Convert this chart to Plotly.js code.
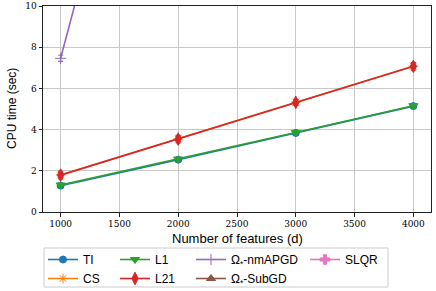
<!DOCTYPE html>
<html>
<head>
<meta charset="utf-8">
<script src="https://cdn.plot.ly/plotly-3.0.1.min.js"></script>
<style>html,body{margin:0;padding:0;background:#fff;}#chart{width:436px;height:291px;}</style>
</head>
<body>
<div id="chart"></div>
<script>
const features = [1000, 2000, 3000, 4000];
const TI = [1.28, 2.54, 3.84, 5.14];
const CS = [1.80, 3.55, 5.33, 7.08];
const L1 = [1.31, 2.57, 3.86, 5.16];
const L21 = [1.79, 3.54, 5.32, 7.07];
const nmAPGD = [7.46, 29.0, 58.0, 95.0];
const SubGD = [35.0, 80.0, 140.0, 210.0];
const SLQR = [25.0, 60.0, 110.0, 170.0];
const errTI = [0.05, 0.06, 0.06, 0.07];
const errCS = [0.12, 0.12, 0.12, 0.12];
const errL1 = [0.06, 0.06, 0.06, 0.07];
const errL21 = [0.18, 0.18, 0.15, 0.18];
const errNm = [0.15, 0.5, 0.8, 1.0];
const errSub = [0.5, 1.0, 1.5, 2.0];
const errSLQR = [0.5, 1.0, 1.5, 2.0];
const names = ['TI', 'CS', 'L1', 'L21', 'Ω<sub>*</sub>-nmAPGD', 'Ω<sub>*</sub>-SubGD', 'SLQR'];
const xTitle = 'Number of features (d)';
const yTitle = 'CPU time (sec)';

function tr(y, err, name, color, symbol, size, legend, rank) {
  return {
    x: features, y: y, name: name, type: 'scatter', mode: 'lines+markers',
    line: {color: color, width: 1.6},
    marker: {color: color, symbol: symbol, size: size, line: {color: color, width: 1}},
    error_y: {type: 'data', array: err, visible: true, color: color, thickness: 1.2, width: 2.5},
    legend: legend, legendrank: rank, cliponaxis: true
  };
}

const data = [
  tr(TI, errTI, names[0], '#1f77b4', 'circle', 7, 'legend', 1),
  tr(CS, errCS, names[1], '#ff7f0e', 'asterisk-open', 8, 'legend', 2),
  tr(L1, errL1, names[2], '#2ca02c', 'triangle-down', 8, 'legend2', 1),
  tr(L21, errL21, names[3], '#d62728', 'diamond-tall', 9, 'legend2', 2),
  tr(nmAPGD, errNm, names[4], '#9467bd', 'cross-thin-open', 8, 'legend3', 1),
  tr(SubGD, errSub, names[5], '#8c564b', 'triangle-up', 8, 'legend3', 2),
  tr(SLQR, errSLQR, names[6], '#e377c2', 'cross', 8, 'legend4', 1)
];

const plotL = 43, plotR = 431, plotT = 6, plotB = 212;
const W = plotR - plotL, H = plotB - plotT;
const legFont = {family: 'Liberation Sans, Arial, sans-serif', size: 12, color: '#000'};
function leg(px) {
  return {x: (px - plotL) / W, y: (plotB - 245) / H,
    xanchor: 'left', yanchor: 'top', orientation: 'v',
    bgcolor: 'rgba(0,0,0,0)', borderwidth: 0, font: legFont, itemwidth: 30,
    tracegroupgap: 0};
}

const layout = {
  width: 436, height: 291,
  margin: {l: 43, r: 5, t: 6, b: 79, autoexpand: false},
  paper_bgcolor: '#fff', plot_bgcolor: '#fff',
  showlegend: true,
  xaxis: {
    range: [850, 4150], tickvals: [1000, 1500, 2000, 2500, 3000, 3500, 4000],
    showgrid: true, gridcolor: '#c8c8c8', gridwidth: 1,
    zeroline: false, showline: true, linecolor: '#222', linewidth: 1, mirror: true,
    ticks: 'outside', ticklen: 3.5, tickcolor: '#222',
    tickfont: {family: 'DejaVu Serif, serif', size: 9, color: '#000'}
  },
  yaxis: {
    range: [0, 10], tickvals: [0, 2, 4, 6, 8, 10],
    showgrid: true, gridcolor: '#c8c8c8', gridwidth: 1,
    zeroline: false, showline: true, linecolor: '#222', linewidth: 1, mirror: true,
    ticks: 'outside', ticklen: 3.5, tickcolor: '#222',
    tickfont: {family: 'DejaVu Serif, serif', size: 9, color: '#000'}
  },
  legend: leg(43),
  legend2: leg(115),
  legend3: leg(191),
  legend4: leg(305),
  annotations: [
    {text: xTitle, xref: 'paper', yref: 'paper', x: 0.5, y: (plotB - 238) / H,
     xanchor: 'center', yanchor: 'middle', showarrow: false,
     font: {family: 'Liberation Sans, Arial, sans-serif', size: 13, color: '#000'}},
    {text: yTitle, xref: 'paper', yref: 'paper', x: (12 - plotL) / W, y: 0.5, textangle: -90,
     xanchor: 'center', yanchor: 'middle', showarrow: false,
     font: {family: 'Liberation Sans, Arial, sans-serif', size: 12, color: '#000'}}
  ],
  shapes: [{type: 'rect', xref: 'paper', yref: 'paper',
    x0: (44 - plotL) / W, x1: (388 - plotL) / W,
    y0: (plotB - 287) / H, y1: (plotB - 248) / H,
    line: {color: '#cccccc', width: 1}, fillcolor: 'rgba(255,255,255,0.8)', layer: 'below'}]
};

Plotly.newPlot('chart', data, layout, {displayModeBar: false, staticPlot: true});
</script>
</body>
</html>
